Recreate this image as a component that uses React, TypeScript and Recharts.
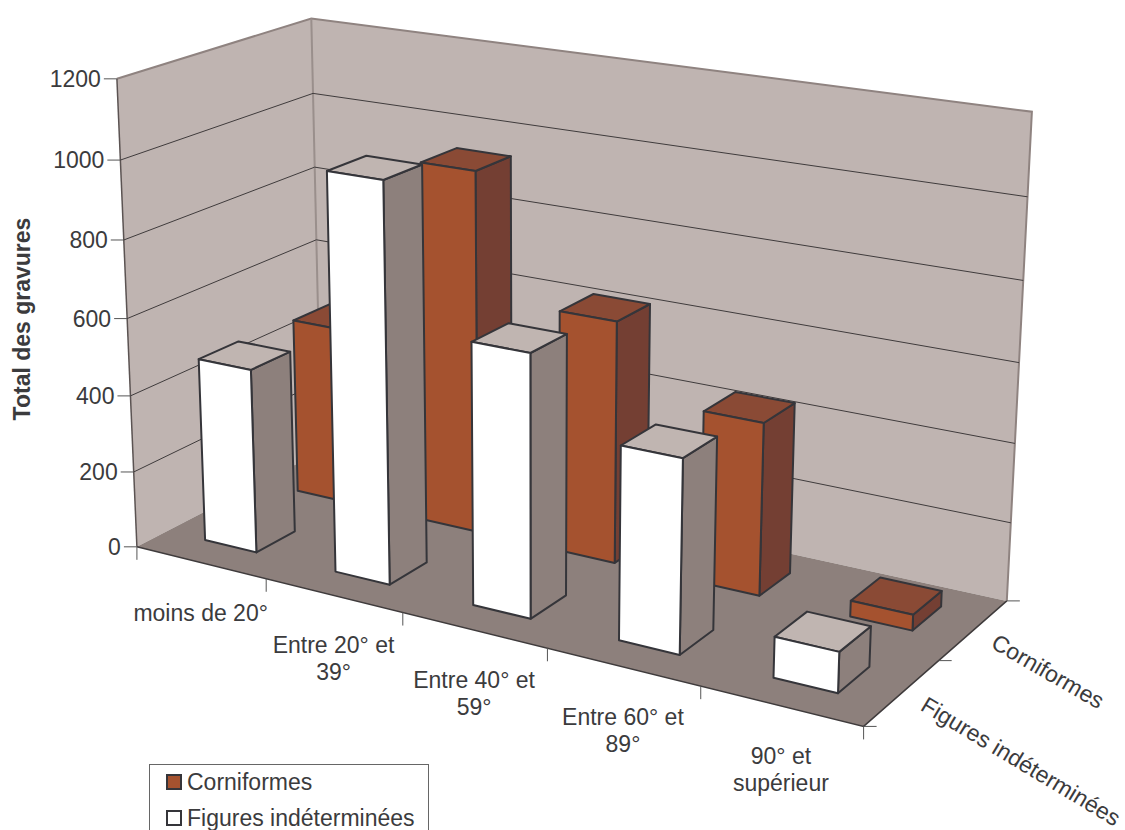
import React from 'react';
import { BarChart, Bar, XAxis, YAxis, CartesianGrid, Legend } from 'recharts';

const categories = ['moins de 20°', 'Entre 20° et|39°', 'Entre 40° et|59°', 'Entre 60° et|89°', '90° et|supérieur'];
const corniformes = [470, 945, 625, 440, 40];
const figures = [480, 1015, 660, 480, 100];
const valueTicks = [0, 200, 400, 600, 800, 1000, 1200];
const MAX_VALUE = 1200;

const data = categories.map((label, i) => ({ label, corniformes: corniformes[i], figures: figures[i] }));

const W = 1125;
const H = 830;
const FONT = '"Liberation Sans", Arial, sans-serif';
const TEXT = '#3b3b3d';
const EDGE = '#35353a';
const WALL = '#bfb4b1';
const FLOOR = '#8d807c';

// screen position of the box corners: [across, depth, height] -> [x, y]
const frame: [number[], number[]][] = [
  [[0, 0, 0], [138, 547.7]],
  [[1, 0, 0], [863.3, 726]],
  [[1, 1, 0], [1007.3, 601.3]],
  [[0, 1, 0], [320, 450.5]],
  [[0, 0, 1], [116, 78.3]],
  [[0, 1, 1], [312.3, 19]],
  [[1, 1, 1], [1031.7, 111.7]],
];

// least squares fit of the 3x4 camera matrix, so the bars get real perspective
function fitCamera() {
  const rows: number[][] = [];
  const rhs: number[] = [];
  frame.forEach(([[u, v, h], [sx, sy]]) => {
    rows.push([u, v, h, 1, 0, 0, 0, 0, -sx * u, -sx * v, -sx * h]);
    rhs.push(sx);
    rows.push([0, 0, 0, 0, u, v, h, 1, -sy * u, -sy * v, -sy * h]);
    rhs.push(sy);
  });
  const n = 11;
  const m = Array.from({ length: n }, (_, i) => {
    const row = Array.from({ length: n }, (_, j) => rows.reduce((s, r) => s + r[i] * r[j], 0));
    row.push(rows.reduce((s, r, k) => s + r[i] * rhs[k], 0));
    return row;
  });
  for (let c = 0; c < n; c++) {
    let p = c;
    for (let r = c + 1; r < n; r++) if (Math.abs(m[r][c]) > Math.abs(m[p][c])) p = r;
    [m[c], m[p]] = [m[p], m[c]];
    for (let r = 0; r < n; r++) {
      if (r === c) continue;
      const f = m[r][c] / m[c][c];
      for (let k = c; k <= n; k++) m[r][k] -= f * m[c][k];
    }
  }
  return m.map((row, i) => row[n] / row[i]);
}

const cam = fitCamera();
const project = (u: number, v: number, h: number): [number, number] => {
  const d = cam[8] * u + cam[9] * v + cam[10] * h + 1;
  return [
    (cam[0] * u + cam[1] * v + cam[2] * h + cam[3]) / d,
    (cam[4] * u + cam[5] * v + cam[6] * h + cam[7]) / d,
  ];
};
const pts = (list: [number, number, number][]) =>
  list.map(([u, v, h]) => project(u, v, h).map((n) => n.toFixed(1)).join(',')).join(' ');

const makeBar = (v0: number, v1: number, front: string, side: string, top: string) => (props: any) => {
  const { x, y, width, height } = props;
  const u0 = (x - 1) / W;
  const u1 = (x - 1 + width) / W;
  const h = (H - y) / H;
  const base = (H - y - height) / H;
  const common = { stroke: EDGE, strokeWidth: 2, strokeLinejoin: 'round' as const };
  return (
    <g>
      <polygon {...common} fill={side} points={pts([[u1, v0, base], [u1, v1, base], [u1, v1, h], [u1, v0, h]])} />
      <polygon {...common} fill={top} points={pts([[u0, v0, h], [u1, v0, h], [u1, v1, h], [u0, v1, h]])} />
      <polygon {...common} fill={front} points={pts([[u0, v0, base], [u1, v0, base], [u1, v0, h], [u0, v0, h]])} />
    </g>
  );
};

const CornBar = makeBar(0.655, 0.86, '#a5522f', '#743f33', '#8a4a35');
const FigBar = makeBar(0.155, 0.36, '#ffffff', '#8d807c', '#c0b5b1');

const ValueTick = (props: any) => {
  const { y, payload } = props;
  const [sx, sy] = project(0, 0, (H - y) / H);
  return (
    <g>
      <line x1={sx - 13} y1={sy} x2={sx} y2={sy} stroke="#555" />
      <text x={sx - 16} y={sy + 8} textAnchor="end" fontFamily={FONT} fontSize={23} fill={TEXT}>
        {payload.value}
      </text>
    </g>
  );
};

const CategoryTick = (props: any) => {
  const { x, index, payload } = props;
  const band = W / categories.length;
  const [cx, cy] = project(x / W, 0, 0);
  const mark = (u: number) => {
    const [mx, my] = project(u, 0, 0);
    return <line x1={mx} y1={my} x2={mx} y2={my + 13} stroke="#555" />;
  };
  return (
    <g>
      {mark((x - band / 2) / W)}
      {index === categories.length - 1 && mark((x + band / 2) / W)}
      {String(payload.value).split('|').map((line, i) => (
        <text key={i} x={cx} y={cy + 58 + i * 27} textAnchor="middle" fontFamily={FONT} fontSize={23} fill={TEXT}>
          {line}
        </text>
      ))}
    </g>
  );
};

const GridLine = (props: any) => {
  const h = (H - props.y1) / H;
  if (h < 0.01 || h > 0.99) return <g key={props.key} />;
  const [lx, ly] = project(0, 0, h);
  const [bx, by] = project(0, 1, h);
  const [rx, ry] = project(1, 1, h);
  return (
    <polyline key={props.key} points={`${lx},${ly} ${bx},${by} ${rx},${ry}`} fill="none" stroke="#3f3b3c" strokeWidth={1} />
  );
};

const depthTick = (v: number) => {
  const [x, y] = project(1, v, 0);
  return <line key={v} x1={x} y1={y} x2={x + 13} y2={y} stroke="#555" />;
};

const Backdrop = () => (
  <svg width={W} height={H} style={{ position: 'absolute', left: 0, top: 0 }}>
    <polygon fill={WALL} points={pts([[0, 0, 0], [0, 1, 0], [0, 1, 1], [0, 0, 1]])} />
    <polygon fill={WALL} points={pts([[0, 1, 0], [1, 1, 0], [1, 1, 1], [0, 1, 1]])} />
    <polygon fill={FLOOR} points={pts([[0, 0, 0], [1, 0, 0], [1, 1, 0], [0, 1, 0]])} />
    <polyline fill="none" stroke="#8f8380" strokeWidth={2} points={pts([[0, 0, 1], [0, 1, 1], [1, 1, 1], [1, 1, 0]])} />
    <polyline fill="none" stroke="#9a8f8c" strokeWidth={2} points={pts([[0, 1, 0], [0, 1, 1]])} />
    <polyline fill="none" stroke="#5b5352" strokeWidth={1.5} points={pts([[0, 0, 0], [0, 0, 1]])} />
    <polyline fill="none" stroke="#3f3b3c" strokeWidth={1.5} points={pts([[0, 0, 0], [1, 0, 0], [1, 1, 0]])} />
    {[0, 0.5, 1].map(depthTick)}
    <text transform="translate(30,319) rotate(-90)" textAnchor="middle" fontFamily={FONT} fontSize={23} fontWeight="bold" fill={TEXT}>
      Total des gravures
    </text>
    <text transform="translate(1047,673) rotate(30)" textAnchor="middle" dominantBaseline="middle" fontFamily={FONT} fontSize={23} fill={TEXT}>
      Corniformes
    </text>
    <text transform="translate(1020,763) rotate(31)" textAnchor="middle" dominantBaseline="middle" fontFamily={FONT} fontSize={23} fill={TEXT}>
      Figures indéterminées
    </text>
  </svg>
);

const LegendBox = () => (
  <div style={{ width: 280, height: 70, boxSizing: 'border-box', border: '1px solid #666', background: '#fff', fontFamily: FONT, fontSize: 23, color: TEXT }}>
    {[['Corniformes', '#a5522f'], ['Figures indéterminées', '#ffffff']].map(([name, color], i) => (
      <div key={name} style={{ position: 'absolute', left: 17, top: 6 + i * 36, display: 'flex', alignItems: 'center', height: 24, whiteSpace: 'nowrap' }}>
        <span style={{ width: 12, height: 12, background: color, border: '2px solid #35353a', marginRight: 5 }} />
        {name}
      </div>
    ))}
  </div>
);

export default function App() {
  return (
    <div style={{ position: 'absolute', left: 0, top: 0, width: W, height: H, overflow: 'hidden', background: '#fff' }}>
      <Backdrop />
      <BarChart
        width={W}
        height={H}
        data={data}
        margin={{ top: 0, right: 0, bottom: -1, left: -1 }}
        barSize={90}
        barGap={-90}
        style={{ position: 'absolute', left: 0, top: 0 }}
      >
        <CartesianGrid vertical={false} horizontal={GridLine} />
        <XAxis dataKey="label" height={1} axisLine={false} tickLine={false} interval={0} tick={CategoryTick} />
        <YAxis width={1} domain={[0, MAX_VALUE]} ticks={valueTicks} axisLine={false} tickLine={false} interval={0} tick={ValueTick} />
        <Bar dataKey="corniformes" name="Corniformes" shape={CornBar} isAnimationActive={false} />
        <Bar dataKey="figures" name="Figures indéterminées" shape={FigBar} isAnimationActive={false} />
        <Legend layout="horizontal" verticalAlign="middle" content={LegendBox} wrapperStyle={{ left: 149, top: 764, width: 281, bottom: 'auto' }} />
      </BarChart>
    </div>
  );
}
